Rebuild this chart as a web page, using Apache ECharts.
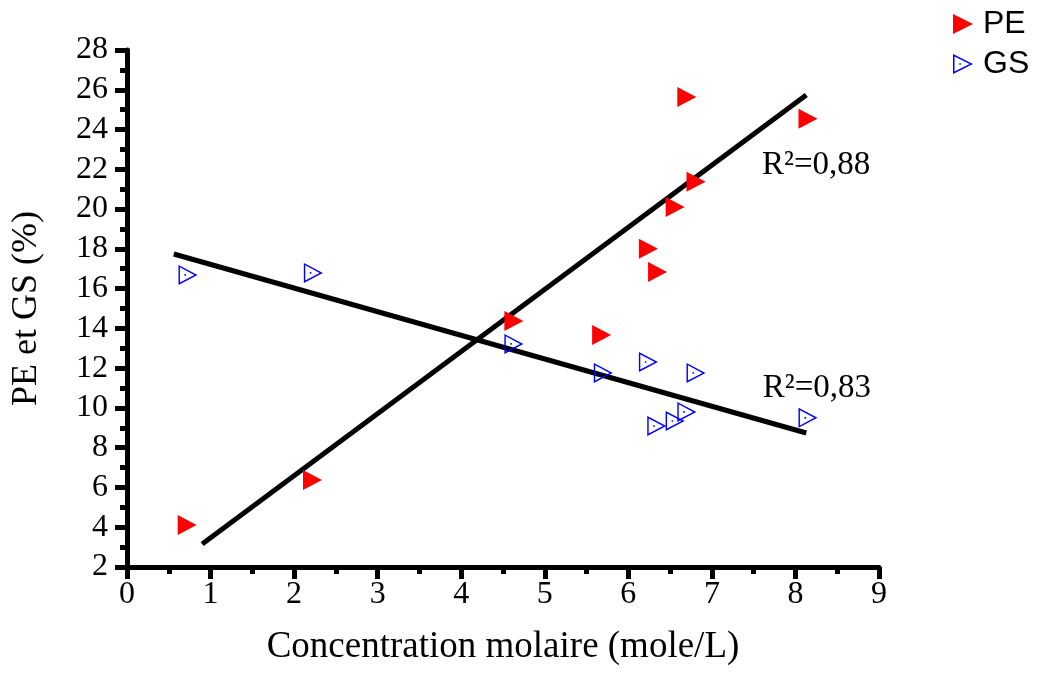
<!DOCTYPE html>
<html>
<head>
<meta charset="utf-8">
<script src="https://cdn.jsdelivr.net/npm/echarts@6/dist/echarts.min.js"></script>
<style>
html,body{margin:0;padding:0;background:#fff;}
#chart{width:1061px;height:673px;}
</style>
</head>
<body>
<div id="chart"></div>
<script>
// Concentration molaire (mole/L)
var concX = [0.72, 2.22, 4.63, 5.68, 6.24, 6.35, 6.56, 6.70, 6.81, 8.15];
var peValues = [4.11, 6.38, 14.37, 13.67, 18.0, 16.84, 20.11, 25.64, 21.37, 24.54];
var gsX = [0.73, 2.23, 4.63, 5.70, 6.24, 6.34, 6.56, 6.70, 6.81, 8.15];
var gsValues = [16.69, 16.79, 13.22, 11.76, 12.31, 9.09, 9.34, 9.80, 11.76, 9.50];
// regression line endpoints
var peFitX = [0.90, 8.13];
var peFitY = [3.16, 25.74];
var gsFitX = [0.56, 8.13];
var gsFitY = [17.74, 8.74];
// annotations
var annotX = [7.60, 7.61];
var annotY = [22.22, 11.0];
var annotText = ['R²=0,88', 'R²=0,83'];
var seriesNames = ['PE', 'GS'];
var xTicks = [0, 9, 1];
var yTicks = [2, 28, 2];

function pairs(xs, ys) { return xs.map(function (x, i) { return [x, ys[i]]; }); }

var serif = 'Liberation Serif';
var redTri = 'path://M0,0L20,10L0,20Z';
var blueTri = 'path://M0,0L20,10L0,20Z M1.5,2.43L1.5,17.57L16.65,10Z M6.3,9.2L7.9,9.2L7.9,10.8L6.3,10.8Z';

var chart = echarts.init(document.getElementById('chart'), null, {renderer: 'canvas'});
chart.setOption({
  animation: false,
  backgroundColor: '#fff',
  grid: {left: 127, right: 182, top: 50, bottom: 106, containLabel: false},
  legend: {
    data: seriesNames,
    left: 948, top: 3, orient: 'vertical',
    itemWidth: 20, itemHeight: 20, itemGap: 8,
    textStyle: {fontFamily: 'Liberation Sans', fontSize: 32, color: '#000', padding: [0, 0, 0, 5]}
  },
  xAxis: {
    type: 'value', min: xTicks[0], max: xTicks[1], interval: xTicks[2],
    name: 'Concentration molaire (mole/L)', nameLocation: 'middle', nameGap: 62,
    nameTextStyle: {fontFamily: serif, fontSize: 37, color: '#000'},
    axisLine: {onZero: false, lineStyle: {color: '#000', width: 5}},
    axisTick: {length: 12, lineStyle: {color: '#000', width: 5}},
    minorTick: {show: true, splitNumber: 2, length: 7, lineStyle: {color: '#000', width: 5}},
    splitLine: {show: false},
    axisLabel: {fontFamily: serif, fontSize: 32, color: '#000', margin: 12}
  },
  yAxis: {
    type: 'value', min: yTicks[0], max: yTicks[1], interval: yTicks[2],
    name: 'PE et GS (%)', nameLocation: 'middle', nameGap: 82,
    nameTextStyle: {fontFamily: serif, fontSize: 36, color: '#000'},
    axisLine: {onZero: false, lineStyle: {color: '#000', width: 5}},
    axisTick: {length: 12, lineStyle: {color: '#000', width: 5}},
    minorTick: {show: true, splitNumber: 2, length: 7, lineStyle: {color: '#000', width: 5}},
    splitLine: {show: false},
    axisLabel: {fontFamily: serif, fontSize: 32, color: '#000', margin: 19}
  },
  series: [
    {
      name: 'fitPE', type: 'line', data: pairs(peFitX, peFitY), symbol: 'none',
      lineStyle: {color: '#000', width: 5}, silent: true, z: 1
    },
    {
      name: 'fitGS', type: 'line', data: pairs(gsFitX, gsFitY), symbol: 'none',
      lineStyle: {color: '#000', width: 5}, silent: true, z: 1
    },
    {
      name: seriesNames[0], type: 'scatter', data: pairs(concX, peValues),
      symbol: redTri, symbolSize: [19, 20],
      itemStyle: {color: '#ff0000', opacity: 1}, z: 3
    },
    {
      name: seriesNames[1], type: 'scatter', data: pairs(gsX, gsValues),
      symbol: blueTri, symbolSize: [19, 20],
      itemStyle: {color: '#0000ff', opacity: 1}, z: 3
    },
    {
      name: 'annot', type: 'scatter',
      data: annotX.map(function (x, i) { return [x, annotY[i], annotText[i]]; }),
      symbolSize: 0, itemStyle: {color: '#000', opacity: 1}, silent: true,
      label: {
        show: true, position: 'right', distance: 0, opacity: 1,
        formatter: function (p) { return p.data[2]; },
        fontFamily: serif, fontSize: 33, color: '#000'
      }
    }
  ]
});
</script>
</body>
</html>
